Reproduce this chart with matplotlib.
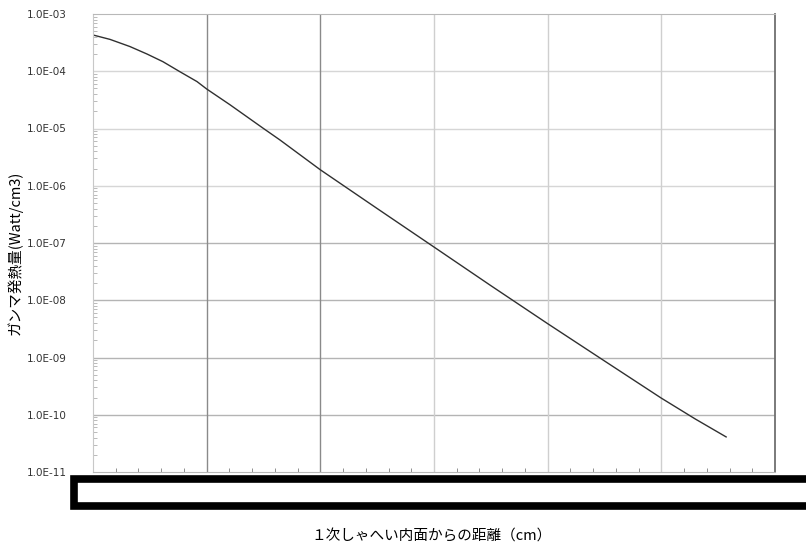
import numpy as np
import matplotlib
matplotlib.use('Agg')
import matplotlib.pyplot as plt
from matplotlib.patches import Rectangle
from matplotlib.ticker import FixedLocator, LogLocator, NullFormatter

plt.rcParams['font.family'] = ['DejaVu Sans', 'Noto Sans CJK JP']

# distance from inner face of primary shield (cm, tick labels hidden in source)
distance = [0.0, 1.5, 3.25, 4.75, 6.15, 7.65, 9.15, 10.0, 12.05, 15.0, 16.45,
            20.0, 25.0, 30.0, 35.0, 40.0, 45.0, 50.0, 53.0, 55.7]
# gamma heating rate (Watt/cm3)
heating = [4.3e-4, 3.6e-4, 2.7e-4, 2.0e-4, 1.47e-4, 9.8e-5, 6.6e-5, 4.9e-5,
           2.6e-5, 1.0e-5, 6.3e-6, 1.9e-6, 4.0e-7, 8.5e-8, 1.8e-8, 3.9e-9,
           8.7e-10, 1.95e-10, 8.4e-11, 4.1e-11]

y_ticks = [1e-3, 1e-4, 1e-5, 1e-6, 1e-7, 1e-8, 1e-9, 1e-10, 1e-11]
y_labels = ['1.0E-03', '1.0E-04', '1.0E-05', '1.0E-06', '1.0E-07',
            '1.0E-08', '1.0E-09', '1.0E-10', '1.0E-11']
x_major = [10, 20, 30, 40, 50]

fig = plt.figure(figsize=(8.06, 5.5), dpi=100)
ax = fig.add_axes([93 / 806, 1 - 472 / 550, 682 / 806, 458 / 550])

ax.plot(distance, heating, color='#303030', lw=1.0)
ax.set_yscale('log')
ax.set_xlim(0, 60)
ax.set_ylim(1e-11, 1e-3)

ax.set_yticks(y_ticks)
ax.set_yticklabels(y_labels, fontsize=7.5, color='#333333')
ax.yaxis.set_minor_locator(LogLocator(base=10, subs=np.arange(2, 10)))
ax.yaxis.set_minor_formatter(NullFormatter())
ax.tick_params(axis='y', which='major', length=0, pad=19)
ax.tick_params(axis='y', which='minor', direction='in', length=3,
               color='#b0b0b0', width=0.6)

ax.set_xticks(x_major)
ax.set_xticklabels([])
ax.xaxis.set_minor_locator(FixedLocator(np.arange(2, 60, 2)))
ax.tick_params(axis='x', which='major', length=0)
ax.tick_params(axis='x', which='minor', direction='in', length=3,
               color='#909090', width=0.7)

# gridlines
for v in y_ticks[1:-1]:
    c = '#d6d6d6' if v > 1e-7 else '#b4b4b4'
    ax.axhline(v, color=c, lw=1.0, zorder=0)
for i, v in enumerate(x_major):
    c = '#8a8a8a' if i < 2 else '#cfcfcf'
    ax.axvline(v, color=c, lw=1.0, zorder=0)

ax.spines['left'].set_color('#c8c8c8')
ax.spines['bottom'].set_color('#b8b8b8')
ax.spines['top'].set_color('#b8b8b8')
ax.spines['right'].set_color('#707070')
ax.spines['right'].set_linewidth(1.3)

ax.set_ylabel('ガンマ発熱量(Watt/cm3)', fontsize=10.5,
              family=['Noto Sans CJK JP', 'DejaVu Sans'])
ax.yaxis.set_label_coords(-70 / 682, 0.478)

fig.text(432 / 806, 1 - 537 / 550, '１次しゃへい内面からの距離（cm）',
         ha='center', va='center', fontsize=10.5,
         family=['Noto Sans CJK JP', 'DejaVu Sans'])

# redaction box over x tick labels
fig.patches.append(Rectangle((73.5 / 806, 1 - 505.5 / 550), 740 / 806, 27 / 550,
                             transform=fig.transFigure, facecolor='white',
                             edgecolor='black', lw=5.5))

fig.savefig('out.png', dpi=100)
